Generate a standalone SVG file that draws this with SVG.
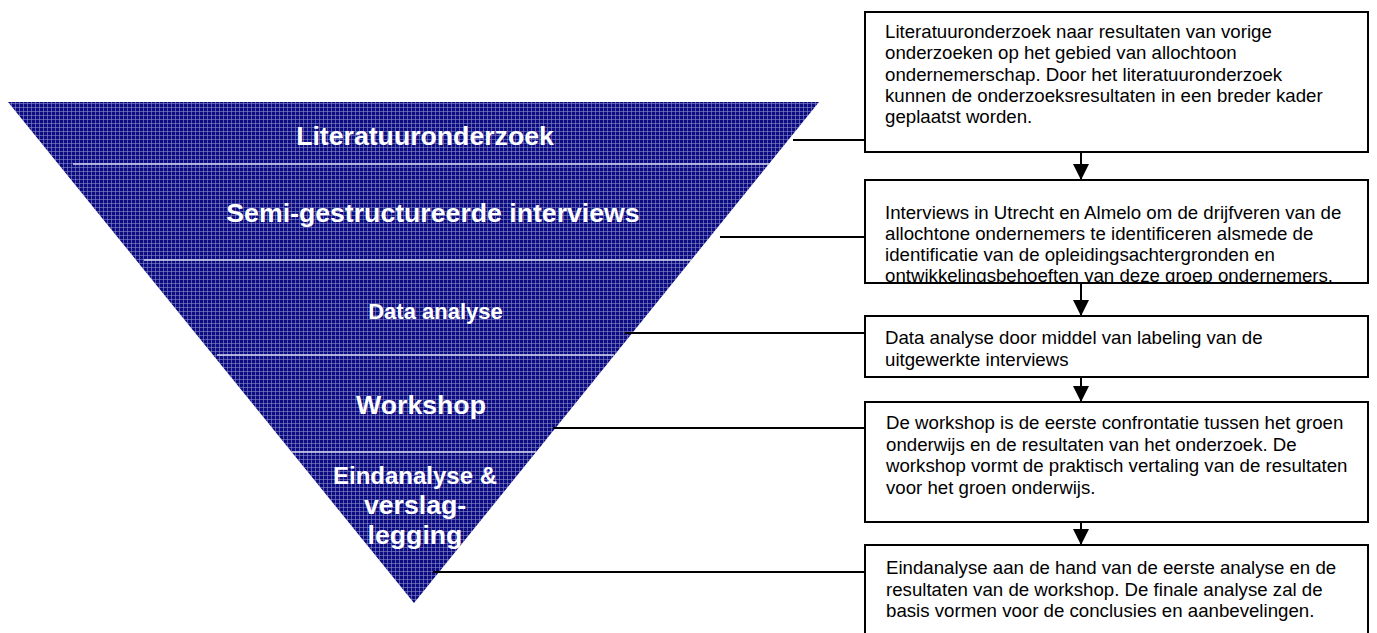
<svg xmlns="http://www.w3.org/2000/svg" width="1377" height="633" viewBox="0 0 1377 633">
  <style>
    .phase { font-family: "Liberation Sans", Arial, sans-serif; font-weight: bold; font-size: 26.67px; fill: #ffffff; text-anchor: middle; }
    .desc { font-family: "Liberation Sans", Arial, sans-serif; font-size: 18.67px; fill: #000000; }
    .box { fill: #ffffff; stroke: #000000; stroke-width: 2; }
    .divider { stroke: #d8d8f0; stroke-width: 1.6; }
    .link { stroke: #000000; stroke-width: 2; fill: none; }
  </style>
  <defs>
    <pattern id="grid" width="4" height="4" patternUnits="userSpaceOnUse">
      <rect width="4" height="4" fill="#0c0c82"/>
      <rect x="3" y="0" width="1" height="4" fill="#8c8cc8" opacity="0.6"/>
      <rect x="0" y="3" width="4" height="1" fill="#8c8cc8" opacity="0.6"/>
    </pattern>
    <marker id="arrow" viewBox="0 0 16 16" markerWidth="16" markerHeight="16" refX="16" refY="8" orient="auto" markerUnits="userSpaceOnUse">
      <path d="M0,0 L16,8 L0,16 Z" fill="#000000"/>
    </marker>
    <clipPath id="clip2"><rect x="865" y="180" width="503" height="103"/></clipPath>
  </defs>

  <!-- inverted funnel with the research phases -->
  <g id="funnel">
    <polygon points="8,102 819,102 414,603" fill="url(#grid)"/>
    <line class="divider" x1="73" y1="164" x2="770" y2="164"/>
    <line class="divider" x1="144" y1="260" x2="691" y2="260"/>
    <line class="divider" x1="217" y1="355" x2="614" y2="355"/>
    <line class="divider" x1="292" y1="452" x2="536" y2="452"/>
  </g>
  <g id="phase-literatuur"><text class="phase" x="425" y="145">Literatuuronderzoek</text></g>
  <g id="phase-interviews"><text class="phase" x="433" y="222">Semi-gestructureerde interviews</text></g>
  <g id="phase-data"><text class="phase" x="435.5" y="319" style="font-size:22px">Data analyse</text></g>
  <g id="phase-workshop"><text class="phase" x="421" y="414">Workshop</text></g>
  <g id="phase-eind">
    <text class="phase" x="415" y="484" style="font-size:24px">Eindanalyse &amp;</text>
    <text class="phase" x="415" y="514">verslag-</text>
    <text class="phase" x="415" y="544">legging</text>
  </g>

  <!-- connectors: funnel to descriptions, and the flow between descriptions -->
  <g id="connectors">
    <line class="link" x1="793" y1="140" x2="865" y2="140"/>
    <line class="link" x1="720" y1="237" x2="865" y2="237"/>
    <line class="link" x1="625" y1="333" x2="865" y2="333"/>
    <line class="link" x1="553" y1="428" x2="865" y2="428"/>
    <line class="link" x1="433" y1="572" x2="865" y2="572"/>
    <line class="link" x1="1081" y1="152" x2="1081" y2="180" marker-end="url(#arrow)"/>
    <line class="link" x1="1081" y1="283" x2="1081" y2="316" marker-end="url(#arrow)"/>
    <line class="link" x1="1081" y1="377" x2="1081" y2="402" marker-end="url(#arrow)"/>
    <line class="link" x1="1081" y1="522" x2="1081" y2="545" marker-end="url(#arrow)"/>
  </g>

  <g id="desc-literatuur">
    <rect class="box" x="865" y="12" width="503" height="140"/>
    <text class="desc" x="885" y="38">Literatuuronderzoek naar resultaten van vorige</text>
    <text class="desc" x="885" y="59">onderzoeken op het gebied van allochtoon</text>
    <text class="desc" x="885" y="81">ondernemerschap. Door het literatuuronderzoek</text>
    <text class="desc" x="885" y="102">kunnen de onderzoeksresultaten in een breder kader</text>
    <text class="desc" x="885" y="123">geplaatst worden.</text>
  </g>
  <g id="desc-interviews">
    <rect class="box" x="865" y="180" width="503" height="103"/>
    <g clip-path="url(#clip2)">
      <text class="desc" x="885" y="219">Interviews in Utrecht en Almelo om de drijfveren van de</text>
      <text class="desc" x="885" y="240">allochtone ondernemers te identificeren alsmede de</text>
      <text class="desc" x="885" y="261">identificatie van de opleidingsachtergronden en</text>
      <text class="desc" x="885" y="282">ontwikkelingsbehoeften van deze groep ondernemers.</text>
    </g>
  </g>
  <g id="desc-data">
    <rect class="box" x="865" y="316" width="503" height="61"/>
    <text class="desc" x="885" y="344">Data analyse door middel van labeling van de</text>
    <text class="desc" x="885" y="366">uitgewerkte interviews</text>
  </g>
  <g id="desc-workshop">
    <rect class="box" x="865" y="402" width="503" height="120"/>
    <text class="desc" x="886" y="429">De workshop is de eerste confrontatie tussen het groen</text>
    <text class="desc" x="886" y="451">onderwijs en de resultaten van het onderzoek. De</text>
    <text class="desc" x="886" y="472">workshop vormt de praktisch vertaling van de resultaten</text>
    <text class="desc" x="886" y="494">voor het groen onderwijs.</text>
  </g>
  <g id="desc-eind">
    <rect class="box" x="865" y="545" width="503" height="90"/>
    <text class="desc" x="886" y="574">Eindanalyse aan de hand van de eerste analyse en de</text>
    <text class="desc" x="886" y="596">resultaten van de workshop. De finale analyse zal de</text>
    <text class="desc" x="886" y="617">basis vormen voor de conclusies en aanbevelingen.</text>
  </g>
</svg>
